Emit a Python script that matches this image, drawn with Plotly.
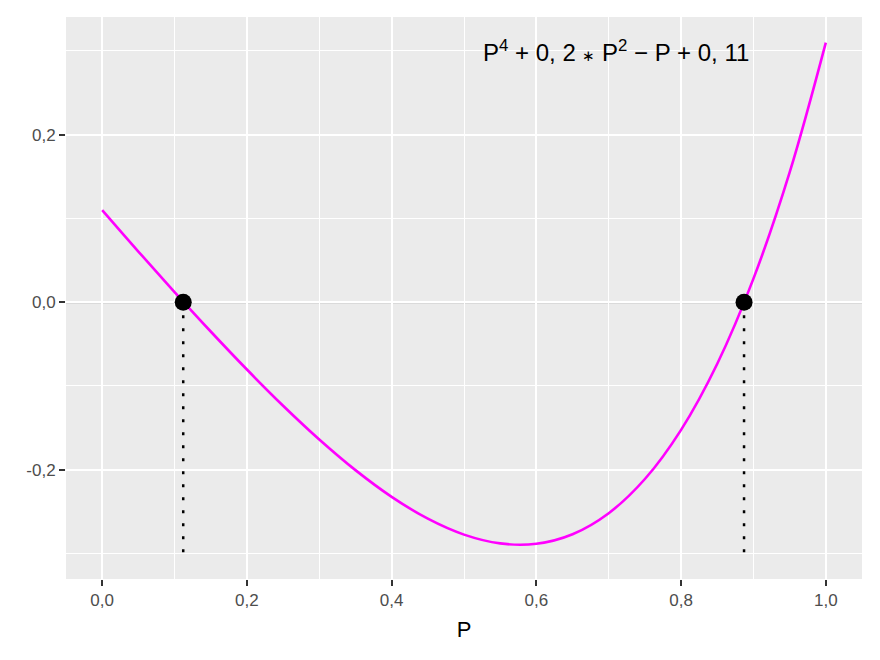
import plotly.graph_objects as go

# curve points
p_vals = [0.00, 0.05, 0.10, 0.15, 0.20, 0.25, 0.30, 0.35, 0.40, 0.45, 0.50,
          0.55, 0.60, 0.65, 0.70, 0.75, 0.80, 0.85, 0.90, 0.95, 1.00]
f_vals = [0.110, 0.0605, 0.0121, -0.0350, -0.0804, -0.1236, -0.1639, -0.2005,
          -0.2324, -0.2585, -0.2775, -0.2880, -0.2884, -0.2770, -0.2519,
          -0.2111, -0.1524, -0.0735, 0.0281, 0.1550, 0.310]

# roots of the polynomial
roots = [0.112, 0.887]
root_y = [0.0, 0.0]
drop_bottom = -0.30

x_ticks = [0.0, 0.2, 0.4, 0.6, 0.8, 1.0]
x_labels = ["0,0", "0,2", "0,4", "0,6", "0,8", "1,0"]
y_ticks = [-0.2, 0.0, 0.2]
y_labels = ["-0,2", "0,0", "0,2"]

label_text = ("P<sup>4</sup> + 0, 2 <span style='font-size:15px'>\u2217</span> "
              "P<sup>2</sup> \u2212 P + 0, 11")
label_x = 0.71
label_y = 0.3

fig = go.Figure()

# zero line
fig.add_hline(y=0, line=dict(color="#A6A6A6", width=2.2), layer="below")

# dotted drops from roots
for r in roots:
    fig.add_trace(go.Scatter(x=[r, r], y=[0, drop_bottom], mode="lines",
                             line=dict(color="black", width=2.5, dash="3px,10px"),
                             showlegend=False, hoverinfo="skip"))

fig.add_trace(go.Scatter(x=p_vals, y=f_vals, mode="lines",
                         line=dict(color="#FF00FF", width=2.6, shape="spline"),
                         showlegend=False))

fig.add_trace(go.Scatter(x=roots, y=root_y, mode="markers",
                         marker=dict(color="black", size=17),
                         showlegend=False))

fig.add_annotation(x=label_x, y=label_y, text=label_text, showarrow=False,
                   font=dict(size=24, color="black"))

fig.update_xaxes(range=[-0.05, 1.05], tickvals=x_ticks, ticktext=x_labels,
                 showline=False, zeroline=False,
                 gridcolor="white", gridwidth=2.2,
                 ticks="outside", ticklen=6, tickwidth=2, tickcolor="#333333",
                 tickfont=dict(size=17, color="#4D4D4D"),
                 minor=dict(dtick=0.2, tick0=0.1, showgrid=True,
                            gridcolor="white", gridwidth=1.1, ticks=""),
                 title=dict(text="P", font=dict(size=22, color="black"), standoff=12))
fig.update_yaxes(range=[-0.3305, 0.3405], tickvals=y_ticks, ticktext=y_labels,
                 showline=False, zeroline=False,
                 gridcolor="white", gridwidth=2.2,
                 ticks="outside", ticklen=6, tickwidth=2, tickcolor="#333333",
                 tickfont=dict(size=17, color="#4D4D4D"),
                 minor=dict(dtick=0.2, tick0=0.1, showgrid=True,
                            gridcolor="white", gridwidth=1.1, ticks=""))

# page body adds 8px offset, so shrink the figure to compensate
fig.update_layout(
    width=872, height=652,
    margin=dict(l=58, r=18, t=9, b=81),
    plot_bgcolor="#EBEBEB", paper_bgcolor="white",
    font=dict(family="Liberation Sans, Arial, sans-serif"),
)

fig.write_html("out.html")
